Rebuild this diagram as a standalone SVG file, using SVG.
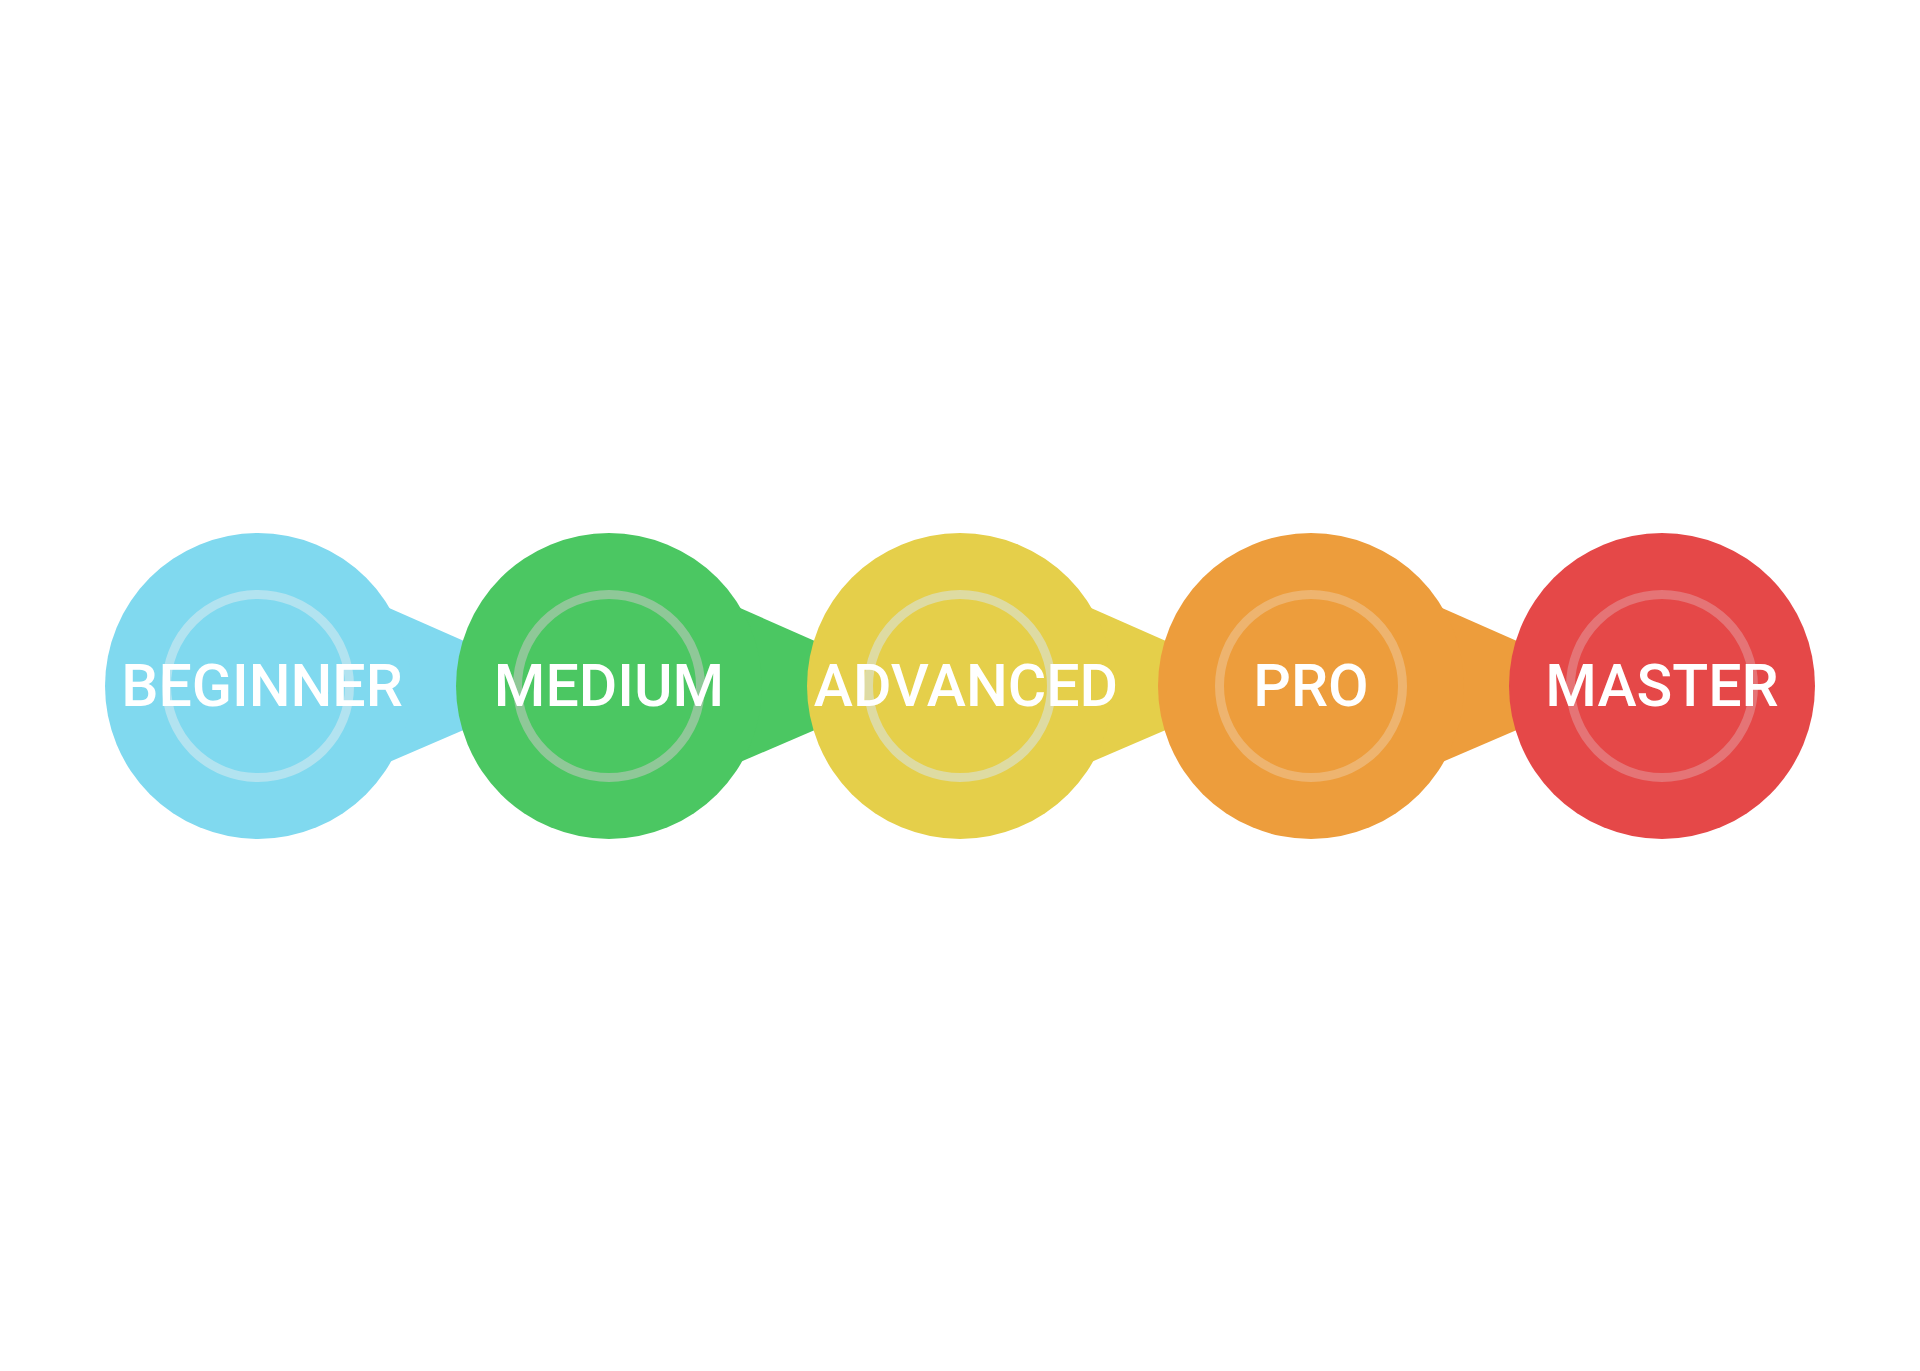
<svg xmlns="http://www.w3.org/2000/svg" width="1920" height="1371" viewBox="0 0 1920 1371">
<style>
.ring{fill:none;stroke-width:9}
.lbl{font-family:Roboto,"Liberation Sans",sans-serif;font-weight:500;font-size:59px;fill:#ffffff;text-anchor:middle}
</style>
<rect width="1920" height="1371" fill="#ffffff"/>
<g id="connectors">
<polygon points="380,604 566,686 380,766" fill="#80D9EF"/>
<polygon points="731,604 917,686 731,766" fill="#4BC762"/>
<polygon points="1082,604 1268,686 1082,766" fill="#E5CF4A"/>
<polygon points="1433,604 1619,686 1433,766" fill="#ED9D3C"/>
</g>
<g id="node-beginner">
<circle cx="258" cy="686" r="153" fill="#80D9EF"/>
<circle class="ring" cx="258" cy="686" r="91.5" stroke="#B2E3F0"/>
<text class="lbl" x="262" y="706">BEGINNER</text>
</g>
<g id="node-medium">
<circle cx="609" cy="686" r="153" fill="#4BC762"/>
<circle class="ring" cx="609" cy="686" r="91.5" stroke="#8FC898"/>
<text class="lbl" x="609" y="706">MEDIUM</text>
</g>
<g id="node-advanced">
<circle cx="960" cy="686" r="153" fill="#E5CF4A"/>
<circle class="ring" cx="960" cy="686" r="91.5" stroke="#DEDBA2"/>
<text class="lbl" x="966" y="706">ADVANCED</text>
</g>
<g id="node-pro">
<circle cx="1311" cy="686" r="153" fill="#ED9D3C"/>
<circle class="ring" cx="1311" cy="686" r="91.5" stroke="#EEB46F"/>
<text class="lbl" x="1311" y="706">PRO</text>
</g>
<g id="node-master">
<circle cx="1662" cy="686" r="153" fill="#E54848"/>
<circle class="ring" cx="1662" cy="686" r="91.5" stroke="#E57476"/>
<text class="lbl" x="1662" y="706">MASTER</text>
</g>
</svg>
